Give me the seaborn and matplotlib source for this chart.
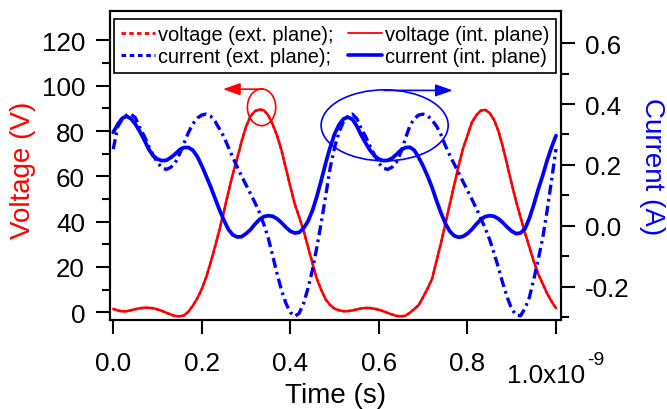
import numpy as np
import matplotlib
matplotlib.use("Agg")
import matplotlib.pyplot as plt
from matplotlib.lines import Line2D
from matplotlib.patches import Ellipse
from matplotlib.ticker import FixedLocator
import seaborn as sns

# ---- data: time axis in ns (axis multiplier 1e-9 s) ----
time_ns = np.linspace(0.0, 1.0, 101)

voltage_int = [
    1.5, 0.8, 0.4, 0.5, 0.9, 1.4, 1.8, 2.0, 2.0, 1.8,
    1.3, 0.6, -0.2, -1.0, -1.6, -1.8, -1.3, 0.3, 3.0, 6.2,
    10.3, 15.5, 22.0, 29.0, 36.5, 44.5, 53.0, 61.0, 68.0, 75.5,
    82.0, 86.5, 88.8, 89.5, 89.2, 87.0, 83.0, 78.0, 71.5, 63.5,
    55.5, 47.8, 42.0, 36.0, 28.8, 21.6, 14.7, 9.8, 5.6, 3.2,
    1.6, 0.9, 0.5, 0.5, 0.8, 1.3, 1.7, 1.9, 1.9, 1.6,
    1.1, 0.5, -0.3, -1.0, -1.6, -1.8, -1.5, -0.2, 1.5, 3.2,
    6.8, 10.5, 14.7, 22.6, 30.4, 38.9, 47.6, 56.1, 64.6, 72.3,
    78.0, 83.8, 87.0, 89.0, 89.4, 88.0, 85.0, 80.0, 73.0, 64.9,
    56.7, 48.9, 41.9, 35.0, 28.7, 22.4, 16.9, 12.6, 8.3, 4.8,
    1.8,
]

# the external-plane voltage coincides with the internal-plane trace
voltage_ext = list(voltage_int)

current_int = [
    0.307, 0.333, 0.353, 0.360, 0.352, 0.334, 0.310, 0.282, 0.252, 0.230,
    0.219, 0.214, 0.215, 0.224, 0.236, 0.250, 0.257, 0.257, 0.248, 0.227,
    0.197, 0.163, 0.128, 0.090, 0.052, 0.018, -0.012, -0.030, -0.037, -0.036,
    -0.026, -0.013, 0.005, 0.020, 0.030, 0.033, 0.031, 0.023, 0.010, -0.005,
    -0.018, -0.024, -0.022, -0.008, 0.015, 0.050, 0.097, 0.150, 0.207, 0.258,
    0.302, 0.332, 0.351, 0.357, 0.350, 0.328, 0.298, 0.272, 0.248, 0.230,
    0.219, 0.214, 0.215, 0.222, 0.235, 0.249, 0.257, 0.258, 0.248, 0.224,
    0.196, 0.163, 0.126, 0.083, 0.043, 0.008, -0.018, -0.033, -0.038, -0.035,
    -0.026, -0.012, 0.005, 0.020, 0.030, 0.033, 0.031, 0.023, 0.010, -0.005,
    -0.018, -0.026, -0.024, -0.010, 0.025, 0.070, 0.120, 0.165, 0.215, 0.258,
    0.296,
]

current_ext = [
    0.252, 0.325, 0.350, 0.363, 0.367, 0.355, 0.322, 0.295, 0.262, 0.232,
    0.208, 0.190, 0.185, 0.192, 0.207, 0.236, 0.272, 0.307, 0.335, 0.354,
    0.364, 0.367, 0.360, 0.343, 0.318, 0.292, 0.258, 0.225, 0.193, 0.163,
    0.134, 0.105, 0.076, 0.044, 0.005, -0.040, -0.098, -0.158, -0.212, -0.255,
    -0.285, -0.298, -0.288, -0.255, -0.205, -0.145, -0.070, 0.012, 0.100, 0.190,
    0.258, 0.308, 0.342, 0.360, 0.367, 0.352, 0.320, 0.293, 0.262, 0.233,
    0.206, 0.189, 0.185, 0.193, 0.210, 0.243, 0.287, 0.329, 0.352, 0.364,
    0.367, 0.362, 0.347, 0.328, 0.300, 0.264, 0.232, 0.203, 0.174, 0.145,
    0.116, 0.087, 0.057, 0.025, -0.008, -0.045, -0.090, -0.138, -0.190, -0.236,
    -0.274, -0.294, -0.296, -0.272, -0.235, -0.175, -0.110, -0.040, 0.050, 0.150,
    0.252,
]

legend_labels = ["voltage (ext. plane);", "current (ext. plane);",
                 "voltage (int. plane)", "current (int. plane)"]
x_ticks = [0.0, 0.2, 0.4, 0.6, 0.8, 1.0]
x_tick_labels = ["0.0", "0.2", "0.4", "0.6", "0.8", ""]
v_ticks = [0, 20, 40, 60, 80, 100, 120]
v_minor = [10, 30, 50, 70, 90, 110]
i_ticks = [-0.2, 0.0, 0.2, 0.4, 0.6]
i_tick_labels = ["-0.2", "0.0", "0.2", "0.4", "0.6"]
i_minor = [-0.3, -0.1, 0.1, 0.3, 0.5]

# ---- style ----
sns.set_style("ticks")
plt.rcParams["font.family"] = ["Liberation Sans", "DejaVu Sans"]
plt.rcParams["axes.linewidth"] = 1.5
for key in ("text.color", "axes.labelcolor", "xtick.color", "ytick.color",
            "axes.edgecolor"):
    plt.rcParams[key] = "black"

RED = "#ff0000"
BLUE = "#0000ff"
W, H = 667, 410

fig = plt.figure(figsize=(W / 100, H / 100), dpi=100)
ax = fig.add_axes([109.7 / W, 1 - 321 / H, 451.3 / W, 309 / H])
ax2 = ax.twinx()

# voltage traces (left axis)
sns.lineplot(x=time_ns, y=voltage_ext, ax=ax, color=RED, lw=1.8,
             linestyle=(0, (1, 1.2)))
sns.lineplot(x=time_ns, y=voltage_int, ax=ax, color=RED, lw=1.8)

# current traces (right axis)
sns.lineplot(x=time_ns, y=current_ext, ax=ax2, color=BLUE, lw=2.4,
             linestyle=(0, (3, 1.3, 0.8, 1.3)))
sns.lineplot(x=time_ns, y=current_int, ax=ax2, color=BLUE, lw=2.7)

# ---- axes limits & ticks ----
ax.set_xlim(-0.008, 1.0113)
ax.set_ylim(-3.4, 133.0)
ax2.set_ylim(-0.310, 0.706)

ax.set_xticks(x_ticks)
ax.set_xticklabels(x_tick_labels)
ax.set_yticks(v_ticks)
ax.yaxis.set_minor_locator(FixedLocator(v_minor))
ax2.set_yticks(i_ticks)
ax2.set_yticklabels(i_tick_labels)
ax2.yaxis.set_minor_locator(FixedLocator(i_minor))

ax.tick_params(axis="both", which="major", direction="out", length=10,
               width=1.5, labelsize=18.7, color="black", labelcolor="black")
ax.tick_params(axis="x", pad=12.0)
ax.tick_params(axis="y", pad=7.7)
ax.tick_params(axis="y", which="minor", direction="out", length=6, width=1.5,
               color="black")
ax2.tick_params(axis="y", which="major", direction="out", length=10,
                width=1.5, labelsize=18.7, pad=7.2, color="black",
                labelcolor="black")
ax2.tick_params(axis="y", which="minor", direction="out", length=6, width=1.5,
                color="black")

for a in (ax, ax2):
    for s in a.spines.values():
        s.set_visible(True)
        s.set_linewidth(1.5)
        s.set_color("black")

# ---- axis labels ----
ax.set_xlabel("Time (s)", fontsize=20, color="black")
ax.xaxis.label.set_va("baseline")
ax.xaxis.set_label_coords(0.5014, -0.265)

ax.set_ylabel("Voltage (V)", fontsize=20, color=RED, va="center")
ax.yaxis.set_label_coords(-0.193, 0.489)

ax2.set_ylabel("Current (A)", fontsize=20, color=BLUE, rotation=270,
               va="center")
ax2.yaxis.set_label_coords(1.2016, 0.498)

# axis multiplier at the last x tick
fig.text(585 / W, 1 - 383 / H, "1.0x10", ha="right", va="baseline",
         fontsize=18.7, color="black")
fig.text(587 / W, 1 - 365 / H, "-9", ha="left", va="baseline", fontsize=14,
         color="black")

# ---- annotations: circled peaks with axis-pointing arrows ----
ax.add_patch(Ellipse((0.335, 90.5), 0.064, 16.2, fill=False, ec=RED, lw=1.2))
ax.annotate("", xy=(0.2476, 98.5), xytext=(0.3386, 98.5),
            arrowprops=dict(arrowstyle="-|>,head_length=1.05,head_width=0.37",
                            color=RED, lw=1.2, shrinkA=0, shrinkB=0,
                            mutation_scale=10))

ax2.add_patch(Ellipse((0.613, 0.330), 0.287, 0.2336, fill=False, ec=BLUE,
                      lw=1.2))
ax2.annotate("", xy=(0.767, 0.445), xytext=(0.612, 0.445),
             arrowprops=dict(arrowstyle="-|>,head_length=1.05,head_width=0.37",
                             color=BLUE, lw=1.2, shrinkA=0, shrinkB=0,
                             mutation_scale=10))

# ---- legend ----
handles = [
    Line2D([], [], color=RED, lw=2.0, linestyle=(0, (1.6, 1.2))),
    Line2D([], [], color=BLUE, lw=2.2, linestyle=(0, (1.5, 1.2))),
    Line2D([], [], color=RED, lw=1.3),
    Line2D([], [], color=BLUE, lw=2.6),
]
leg = ax2.legend(handles, legend_labels, ncol=2, loc="upper left",
                 bbox_to_anchor=(0.0102, 0.0, 0.978, 0.974), mode="expand",
                 borderaxespad=0, fontsize=14.4, frameon=True,
                 fancybox=False, framealpha=1, edgecolor="black",
                 handlelength=1.7, handletextpad=0.15, columnspacing=0.4,
                 labelspacing=0.15, borderpad=0.32)
leg.get_frame().set_linewidth(1.2)
for t in leg.get_texts():
    t.set_color("black")

fig.savefig("out.png", dpi=100)
